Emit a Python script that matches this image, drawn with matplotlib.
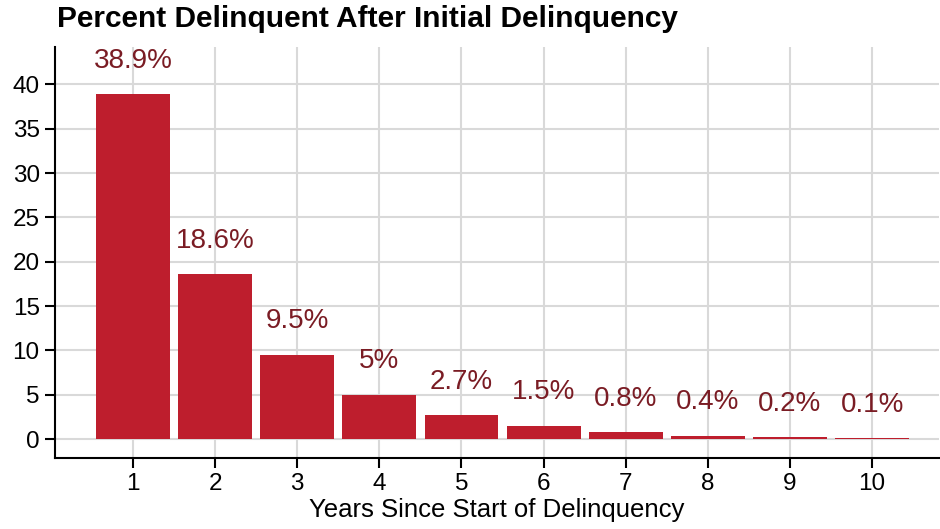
import matplotlib
matplotlib.use("Agg")
import matplotlib.pyplot as plt

plt.rcParams["font.family"] = ["Liberation Sans", "DejaVu Sans"]

years = [1, 2, 3, 4, 5, 6, 7, 8, 9, 10]
pct = [38.9, 18.6, 9.5, 5.0, 2.7, 1.5, 0.8, 0.4, 0.2, 0.1]
labels = ["38.9%", "18.6%", "9.5%", "5%", "2.7%", "1.5%", "0.8%", "0.4%", "0.2%", "0.1%"]

BAR = "#BE1E2D"
LABEL = "#7A1C24"
GRID = "#D9D9D9"

fig = plt.figure(figsize=(9.4, 5.29), dpi=100)
ax = fig.add_axes([0.0585, 0.134, 0.94, 0.777])

ax.bar(years, pct, width=0.9, color=BAR, zorder=3)
for x, y, t in zip(years, pct, labels):
    ax.annotate(t, (x, y), xytext=(0, 19), textcoords="offset points",
                ha="center", va="baseline", fontsize=20, color=LABEL, zorder=4)

ax.set_xlim(0.05, 10.81)
ax.set_ylim(-2.14, 44.2)
ax.set_xticks(years)
ax.set_yticks(range(0, 41, 5))
ax.grid(True, color=GRID, lw=1.5, zorder=0)
for s in ("top", "right"):
    ax.spines[s].set_visible(False)
for s in ("left", "bottom"):
    ax.spines[s].set_linewidth(1.5)
ax.tick_params(direction="out", length=7, width=1.5, labelsize=17.5, pad=4)
ax.set_xlabel("Years Since Start of Delinquency", fontsize=18.5, labelpad=2)

fig.text(0.061, 0.965, "Percent Delinquent After Initial Delinquency",
         fontsize=21.5, fontweight="bold", ha="left", va="center")

fig.savefig("out.png", dpi=100)
